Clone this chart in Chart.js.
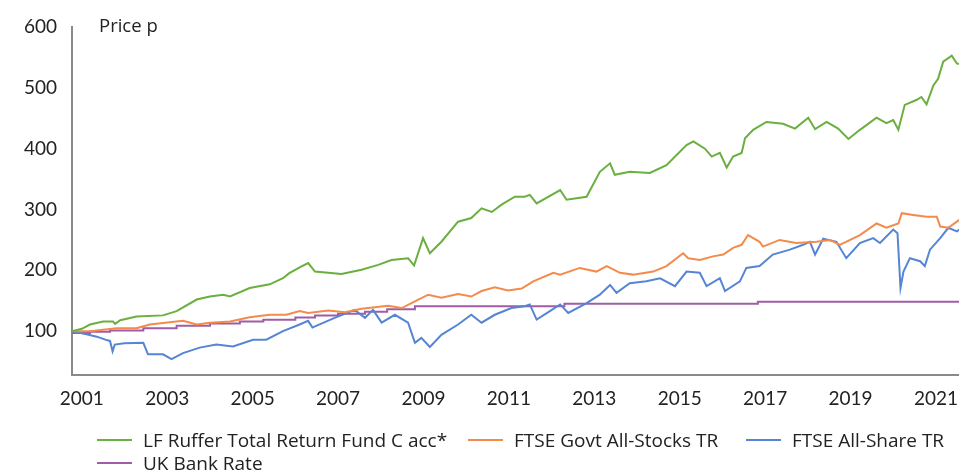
<!DOCTYPE html>
<html>
<head>
<meta charset="utf-8">
<script src="https://cdn.jsdelivr.net/npm/chart.js@4.4.0/dist/chart.umd.min.js"></script>
<style>
  html, body { margin: 0; padding: 0; background: #fff; }
  #wrap { position: relative; width: 959px; height: 472px; }
  #legend { position: absolute; left: 97px; top: 428px; font: 19px "Open Sans", sans-serif; color: #222; }
  .row { display: flex; height: 23px; align-items: center; white-space: nowrap; }
  .item { display: flex; align-items: center; }
  .item.c0 { width: 371px; }
  .item.c1 { width: 278px; }
  .swatch { width: 35px; height: 2px; margin-right: 11px; }
</style>
</head>
<body>
<div id="wrap">
  <canvas id="chart" width="959" height="472"></canvas>
  <div id="legend"></div>
</div>
<script>
const yearTicks = [2001, 2003, 2005, 2007, 2009, 2011, 2013, 2015, 2017, 2019, 2021];
const priceTicks = [100, 200, 300, 400, 500, 600];

const rufferYears = [2000.77, 2001.0, 2001.19, 2001.5, 2001.73, 2001.78, 2001.9, 2002.28, 2002.9, 2003.22, 2003.69, 2004.0, 2004.31, 2004.47, 2004.93, 2005.4, 2005.71, 2005.85, 2006.1, 2006.3, 2006.46, 2007.08, 2007.55, 2007.94, 2008.25, 2008.64, 2008.78, 2008.99, 2009.15, 2009.42, 2009.81, 2010.12, 2010.36, 2010.6, 2010.83, 2011.14, 2011.37, 2011.49, 2011.65, 2012.2, 2012.35, 2012.82, 2013.13, 2013.37, 2013.48, 2013.83, 2014.3, 2014.69, 2015.16, 2015.32, 2015.59, 2015.75, 2015.94, 2016.1, 2016.25, 2016.45, 2016.53, 2016.72, 2017.03, 2017.42, 2017.7, 2018.01, 2018.17, 2018.44, 2018.71, 2018.95, 2019.22, 2019.61, 2019.84, 2020.0, 2020.12, 2020.27, 2020.54, 2020.66, 2020.78, 2020.94, 2021.05, 2021.17, 2021.37, 2021.49, 2021.54];
const rufferValues = [100, 104, 111, 116, 116, 112, 118, 124, 126, 133, 152, 157, 160, 157, 171, 177, 187, 195, 205, 212, 198, 194, 201, 209, 217, 220, 208, 253, 228, 247, 280, 286, 302, 296, 308, 321, 321, 324, 310, 332, 316, 321, 362, 376, 357, 362, 360, 373, 406, 412, 400, 387, 393, 369, 387, 393, 417, 431, 444, 441, 433, 451, 432, 444, 433, 416, 431, 451, 442, 447, 431, 472, 480, 485, 473, 504, 515, 543, 553, 540, 539];

const giltYears = [2000.77, 2001.19, 2001.81, 2002.28, 2002.59, 2003.37, 2003.69, 2004.0, 2004.47, 2004.93, 2005.4, 2005.79, 2006.1, 2006.3, 2006.77, 2007.16, 2007.55, 2008.17, 2008.49, 2008.8, 2009.11, 2009.42, 2009.81, 2010.12, 2010.36, 2010.67, 2010.98, 2011.3, 2011.57, 2012.04, 2012.2, 2012.66, 2013.05, 2013.29, 2013.6, 2013.91, 2014.38, 2014.69, 2015.08, 2015.2, 2015.47, 2015.78, 2016.02, 2016.25, 2016.45, 2016.6, 2016.87, 2016.95, 2017.34, 2017.73, 2018.2, 2018.52, 2018.75, 2019.22, 2019.61, 2019.84, 2020.12, 2020.2, 2020.47, 2020.78, 2021.02, 2021.1, 2021.29, 2021.49, 2021.54];
const giltValues = [100, 100, 105, 105, 111, 117, 111, 114, 116, 123, 127, 127, 133, 130, 134, 131, 137, 142, 138, 149, 160, 155, 161, 157, 166, 172, 167, 170, 182, 196, 193, 204, 198, 207, 196, 193, 198, 207, 228, 220, 217, 223, 226, 237, 242, 258, 247, 239, 250, 245, 247, 250, 242, 258, 277, 270, 277, 294, 291, 288, 288, 272, 270, 280, 283];

const shareYears = [2000.77, 2001.11, 2001.35, 2001.6, 2001.66, 2001.72, 2001.77, 2002.0, 2002.44, 2002.55, 2002.9, 2003.1, 2003.37, 2003.76, 2004.15, 2004.54, 2005.01, 2005.32, 2005.71, 2006.1, 2006.3, 2006.4, 2006.46, 2006.92, 2007.39, 2007.63, 2007.82, 2008.02, 2008.33, 2008.64, 2008.8, 2008.95, 2009.15, 2009.42, 2009.81, 2010.12, 2010.36, 2010.67, 2011.06, 2011.37, 2011.49, 2011.65, 2011.96, 2012.2, 2012.39, 2012.82, 2013.13, 2013.37, 2013.52, 2013.83, 2014.22, 2014.54, 2014.89, 2015.16, 2015.47, 2015.63, 2015.94, 2016.06, 2016.41, 2016.56, 2016.87, 2017.18, 2017.58, 2017.89, 2018.05, 2018.17, 2018.36, 2018.67, 2018.9, 2019.22, 2019.53, 2019.69, 2020.0, 2020.1, 2020.17, 2020.24, 2020.39, 2020.63, 2020.74, 2020.86, 2021.1, 2021.29, 2021.49, 2021.54];
const shareValues = [100, 95, 91, 85, 84, 67, 78, 80, 81, 62, 62, 54, 64, 73, 78, 75, 86, 86, 100, 111, 117, 106, 108, 122, 135, 122, 135, 114, 127, 114, 81, 89, 74, 94, 111, 127, 114, 127, 138, 141, 144, 119, 133, 144, 130, 146, 160, 176, 163, 179, 182, 187, 174, 198, 196, 174, 187, 166, 182, 204, 207, 226, 234, 242, 247, 226, 252, 247, 220, 245, 253, 245, 267, 261, 171, 198, 220, 215, 207, 234, 253, 270, 264, 267];

const bankYears = [2000.77, 2001.19, 2001.66, 2002.44, 2003.22, 2004.0, 2004.7, 2005.25, 2006.0, 2006.46, 2007.0, 2007.63, 2008.15, 2008.8, 2012.3, 2016.83, 2021.54];
const bankValues = [97, 99, 101, 105, 109, 112.5, 116, 119, 122.5, 126, 128.5, 132, 136, 141, 145, 148.5, 148.5];

const pts = (xs, ys) => xs.map((x, i) => ({ x: x, y: ys[i] }));

const series = [
  { label: 'LF Ruffer Total Return Fund C acc*', color: '#6aaf3f', data: pts(rufferYears, rufferValues), row: 0 },
  { label: 'FTSE Govt All-Stocks TR', color: '#f48a4c', data: pts(giltYears, giltValues), row: 0 },
  { label: 'FTSE All-Share TR', color: '#5585d4', data: pts(shareYears, shareValues), row: 0 },
  { label: 'UK Bank Rate', color: '#a05ca6', data: pts(bankYears, bankValues), row: 1, stepped: 'before' }
];

const axisLabel = {
  id: 'axisLabel',
  afterDraw(chart) {
    const ctx = chart.ctx;
    ctx.save();
    ctx.font = '18.5px "Open Sans", sans-serif';
    ctx.fillStyle = '#222';
    ctx.textBaseline = 'middle';
    ctx.fillText('Price p', chart.chartArea.left + 27, chart.scales.y.getPixelForValue(600));
    ctx.restore();
  }
};

new Chart(document.getElementById('chart'), {
  type: 'line',
  data: {
    datasets: series.map(s => ({
      label: s.label,
      data: s.data,
      borderColor: s.color,
      backgroundColor: s.color,
      borderWidth: 2,
      pointRadius: 0,
      stepped: s.stepped || false,
      tension: 0
    }))
  },
  options: {
    responsive: false,
    animation: false,
    layout: { padding: { top: 27, right: 0, left: 0, bottom: 0 } },
    plugins: { legend: { display: false }, tooltip: { enabled: false } },
    scales: {
      x: {
        type: 'linear',
        min: 2000.77,
        max: 2021.54,
        afterBuildTicks: scale => { scale.ticks = yearTicks.map(v => ({ value: v })); },
        afterFit: scale => { scale.height = 97; scale.paddingLeft = 0; scale.paddingRight = 0; },
        grid: { drawOnChartArea: false, drawTicks: false },
        border: { color: '#8a8a8a', width: 2 },
        ticks: {
          padding: 12,
          maxRotation: 0,
          autoSkip: false,
          color: '#222',
          font: { family: 'Lato', size: 19 },
          callback: v => String(v)
        }
      },
      y: {
        min: 28,
        max: 600,
        afterBuildTicks: scale => { scale.ticks = priceTicks.map(v => ({ value: v })); },
        afterFit: scale => { scale.width = 72; },
        grid: { drawOnChartArea: false, drawTicks: false },
        border: { color: '#8a8a8a', width: 2 },
        ticks: {
          padding: 15,
          color: '#222',
          font: { family: 'Lato', size: 19 },
          callback: v => String(v)
        }
      }
    }
  },
  plugins: [axisLabel]
});

const legend = document.getElementById('legend');
[0, 1].forEach(r => {
  const row = document.createElement('div');
  row.className = 'row';
  series.filter(s => s.row === r).forEach((s, i) => {
    const item = document.createElement('div');
    item.className = 'item c' + i;
    const sw = document.createElement('span');
    sw.className = 'swatch';
    sw.style.background = s.color;
    const tx = document.createElement('span');
    tx.textContent = s.label;
    item.appendChild(sw);
    item.appendChild(tx);
    row.appendChild(item);
  });
  legend.appendChild(row);
});
</script>
</body>
</html>
